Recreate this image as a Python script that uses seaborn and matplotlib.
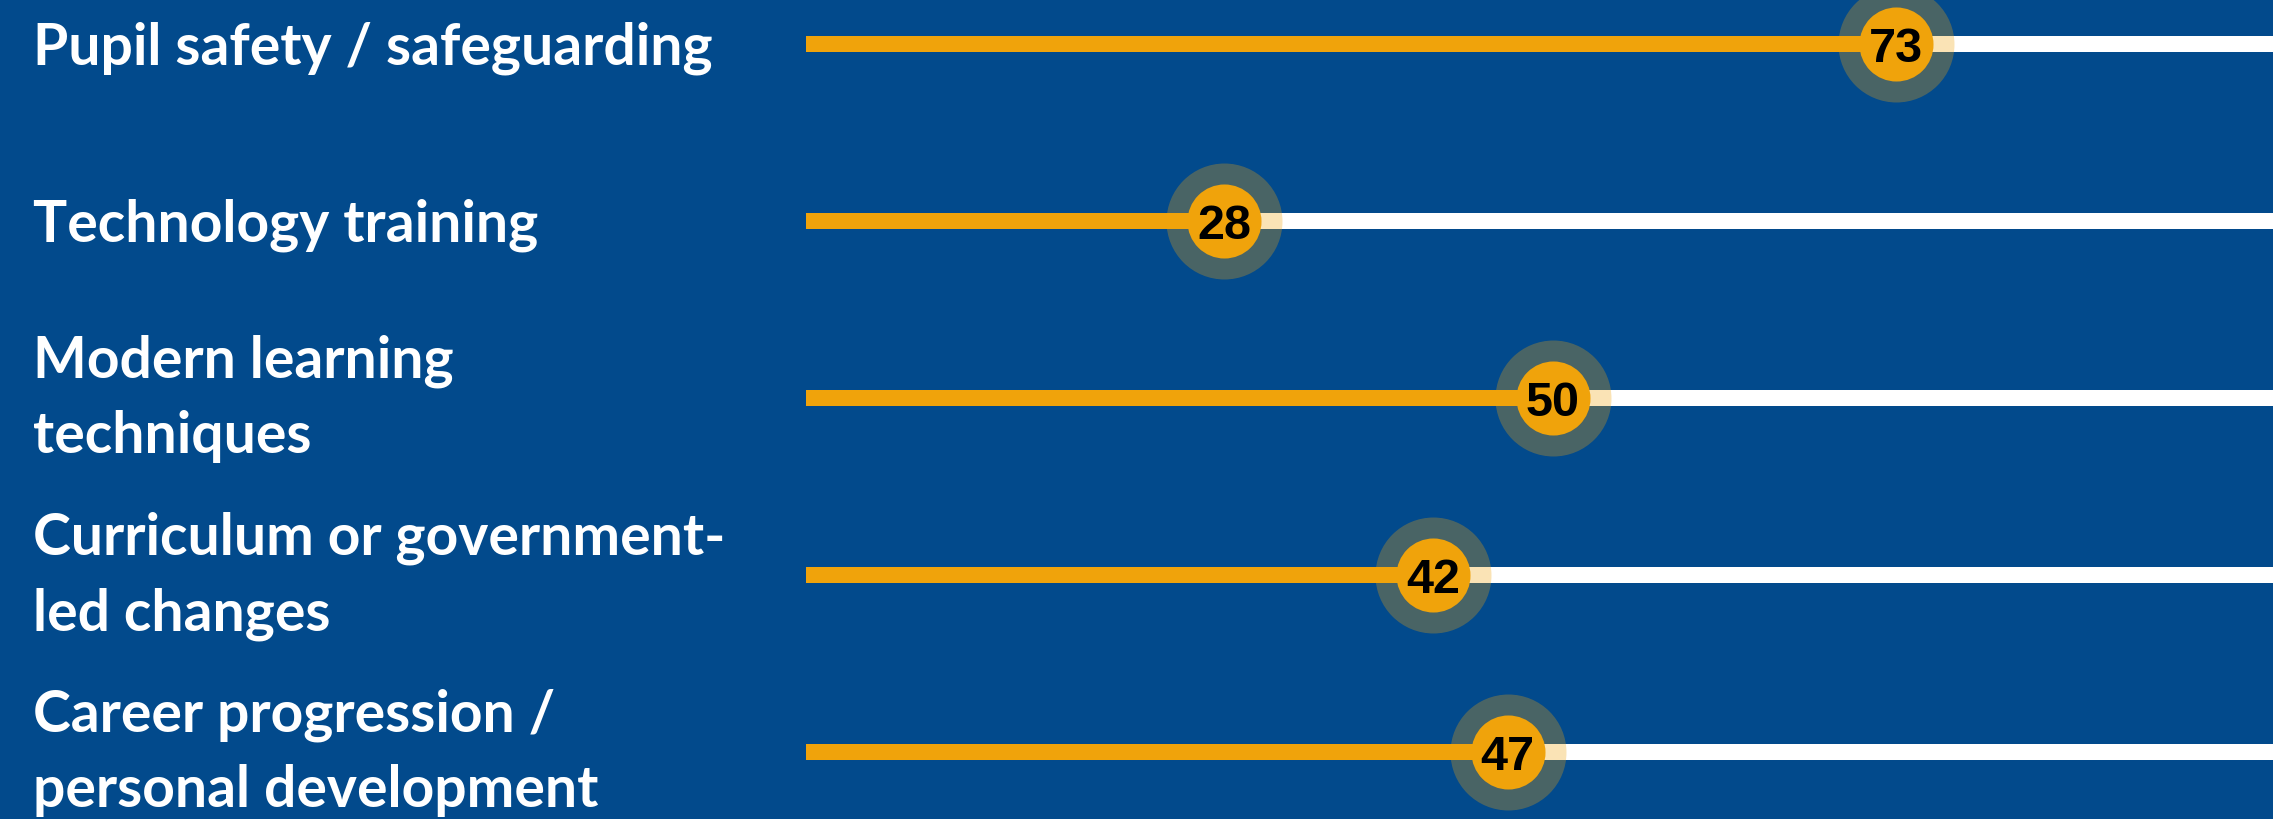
import numpy as np
import pandas as pd
import matplotlib
matplotlib.use("Agg")
import matplotlib.pyplot as plt
import matplotlib.transforms as mtransforms
import seaborn as sns

# ---- data ----
categories = [
    "Pupil safety / safeguarding",
    "Technology training",
    "Modern learning\ntechniques",
    "Curriculum or government-\nled changes",
    "Career progression /\npersonal development",
]
values = [73, 28, 50, 42, 47]
value_labels = ["73", "28", "50", "42", "47"]
scale_max = 100

# ---- style ----
BLUE = "#024a8c"
ORANGE = "#f0a30b"
WHITE = "#ffffff"
W, H, DPI = 2273, 819, 100

sns.set_theme(style="white")
plt.rcParams["font.family"] = ["Lato", "DejaVu Sans"]

fig = plt.figure(figsize=(W / DPI, H / DPI), dpi=DPI, facecolor=BLUE)
x0_px, px_per_unit = 806, 14.93
ax = fig.add_axes([x0_px / W, 0, scale_max * px_per_unit / W, 1])
ax.set_facecolor(BLUE)

df = pd.DataFrame({
    "category": categories,
    "value": values,
    "track": [scale_max] * len(values),
    "pos": np.arange(len(values)),
})

bar_w = 16 / 177
sns.barplot(data=df, x="track", y="pos", orient="h", native_scale=True,
            color=WHITE, saturation=1, width=bar_w, errorbar=None, ax=ax,
            linewidth=0)
sns.barplot(data=df, x="value", y="pos", orient="h", native_scale=True,
            color=ORANGE, saturation=1, width=bar_w, errorbar=None, ax=ax,
            linewidth=0)

sns.scatterplot(data=df, x="value", y="pos", s=6972, color=ORANGE, alpha=0.3,
                linewidth=0, ax=ax, zorder=5, clip_on=False, legend=False)
sns.scatterplot(data=df, x="value", y="pos", s=2841, color=ORANGE, alpha=1,
                linewidth=0, ax=ax, zorder=6, clip_on=False, legend=False)

ax.set_xlim(0, scale_max)
ax.set_ylim(4.3785, -0.2486)
ax.set_axis_off()

# value labels
num_tr = mtransforms.offset_copy(ax.transData, fig=fig, y=-17.5 * 72 / DPI, units="points")
for v, lab, p in zip(df["value"], value_labels, df["pos"]):
    ax.text(v, p, lab, ha="center", va="baseline", fontsize=35,
            fontweight="bold", color="black", family=["Liberation Sans", "DejaVu Sans"],
            transform=num_tr, zorder=10)

# category labels (va='baseline' aligns the last line's baseline)
blend = mtransforms.blended_transform_factory(fig.transFigure, ax.transData)
for cat, p in zip(df["category"], df["pos"]):
    n = cat.count("\n") + 1
    off_px = -(20 + 35 * (n - 1))
    tr = mtransforms.offset_copy(blend, fig=fig, y=off_px * 72 / DPI, units="points")
    fig.text(33 / W, p, cat, ha="left", va="baseline", fontsize=41,
             fontweight="bold", color=WHITE, linespacing=1.52, transform=tr)

fig.savefig("out.png", dpi=DPI, facecolor=BLUE)
